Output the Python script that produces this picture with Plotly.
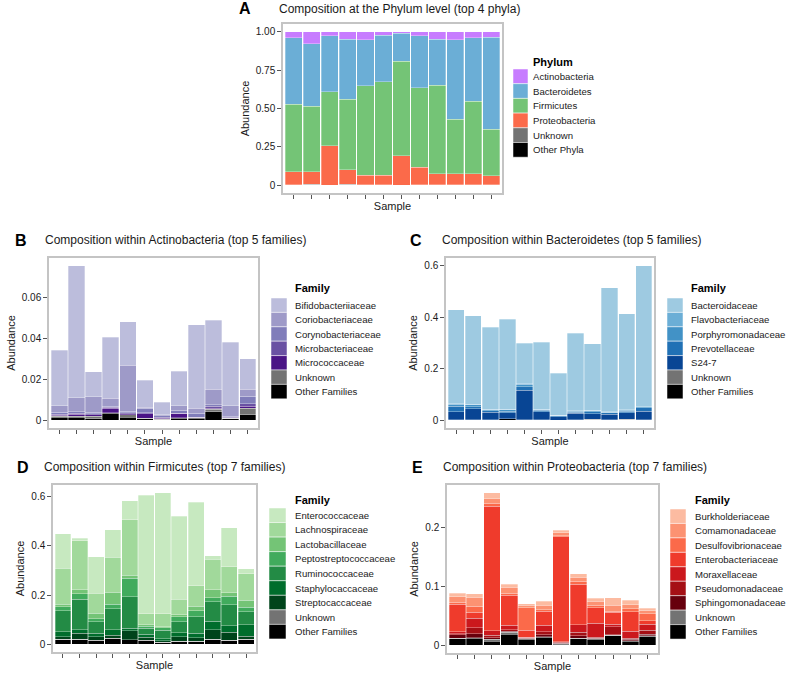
import plotly.graph_objects as go

W, H = 787, 673
samples = list(range(1, 13))

# ---------------- Panel A: phylum level ----------------
phylum_names = ["Actinobacteria", "Bacteroidetes", "Firmicutes", "Proteobacteria", "Unknown", "Other Phyla"]
phy_actino = [0.039, 0.078, 0.026, 0.048, 0.052, 0.024, 0.011, 0.026, 0.050, 0.054, 0.039, 0.035]
phy_bact = [0.433, 0.407, 0.365, 0.391, 0.300, 0.302, 0.182, 0.339, 0.300, 0.516, 0.415, 0.600]
phy_firm = [0.441, 0.428, 0.352, 0.459, 0.583, 0.609, 0.616, 0.518, 0.574, 0.354, 0.470, 0.304]
phy_proteo = [0.083, 0.081, 0.255, 0.096, 0.062, 0.062, 0.189, 0.114, 0.071, 0.073, 0.071, 0.057]
phy_unknown = [0.001, 0.001, 0.001, 0.001, 0.001, 0.001, 0.001, 0.001, 0.001, 0.001, 0.001, 0.001]
phy_other = [0.003, 0.005, 0.001, 0.005, 0.002, 0.002, 0.001, 0.002, 0.004, 0.002, 0.004, 0.003]

# ---------------- Panel B: Actinobacteria families ----------------
act_names = ["Bifidobacteriiaceae", "Coriobacteriaceae", "Corynobacteriaceae", "Microbacteriaceae",
             "Micrococcaceae", "Unknown", "Other Families"]
act_bifido = [0.0270, 0.0645, 0.0123, 0.0300, 0.0212, 0.0134, 0.0061, 0.0168, 0.0409, 0.0337, 0.0310, 0.0150]
act_corio = [0.0032, 0.0070, 0.0075, 0.0039, 0.0226, 0.0004, 0.0003, 0.0023, 0.0024, 0.0076, 0.0051, 0.0034]
act_coryno = [0.0010, 0.0006, 0.0007, 0.0005, 0.0007, 0.0022, 0.0008, 0.0015, 0.0019, 0.0008, 0.0006, 0.0035]
act_microbact = [0.0005, 0.0005, 0.0005, 0.0005, 0.0005, 0.0004, 0.0004, 0.0003, 0.0002, 0.0010, 0.0003, 0.0013]
act_micrococc = [0.0005, 0.0011, 0.0008, 0.0022, 0.0006, 0.0023, 0.0006, 0.0019, 0.0001, 0.0006, 0.0002, 0.0011]
act_unknown = [0.0004, 0.0003, 0.0012, 0.0002, 0.0011, 0.0002, 0.0002, 0.0002, 0.0002, 0.0012, 0.0002, 0.0030]
act_other = [0.0016, 0.0016, 0.0008, 0.0034, 0.0015, 0.0008, 0.0003, 0.0010, 0.0011, 0.0041, 0.0007, 0.0028]

# ---------------- Panel C: Bacteroidetes families ----------------
bac_names = ["Bacteroidaceae", "Flavobacteriaceae", "Porphyromonadaceae", "Prevotellaceae",
             "S24-7", "Unknown", "Other Families"]
bac_bacteroid = [0.366, 0.342, 0.320, 0.350, 0.157, 0.261, 0.162, 0.300, 0.258, 0.481, 0.373, 0.547]
bac_flavo = [0.002, 0.002, 0.001, 0.001, 0.003, 0.001, 0.001, 0.001, 0.001, 0.001, 0.001, 0.001]
bac_porphy = [0.008, 0.008, 0.004, 0.005, 0.010, 0.003, 0.002, 0.004, 0.004, 0.003, 0.004, 0.004]
bac_prevo = [0.020, 0.008, 0.005, 0.006, 0.013, 0.005, 0.003, 0.005, 0.008, 0.005, 0.005, 0.013]
bac_s247 = [0.032, 0.042, 0.030, 0.024, 0.115, 0.031, 0.013, 0.024, 0.022, 0.022, 0.026, 0.033]
bac_unknown = [0.001, 0.002, 0.001, 0.001, 0.001, 0.001, 0.001, 0.002, 0.001, 0.001, 0.001, 0.001]
bac_other = [0.001, 0.001, 0.001, 0.005, 0.001, 0.001, 0.000, 0.001, 0.003, 0.001, 0.003, 0.001]

# ---------------- Panel D: Firmicutes families ----------------
fir_names = ["Enterococcaceae", "Lachnospiraceae", "Lactobacillaceae", "Peptostreptococcaceae",
             "Ruminococcaceae", "Staphylocaccaceae", "Streptocaccaceae", "Unknown", "Other Families"]
fir_entero = [0.140, 0.011, 0.147, 0.111, 0.077, 0.480, 0.490, 0.336, 0.338, 0.015, 0.158, 0.020]
fir_lachno = [0.146, 0.198, 0.081, 0.142, 0.224, 0.045, 0.054, 0.062, 0.083, 0.123, 0.104, 0.109]
fir_lacto = [0.011, 0.015, 0.023, 0.049, 0.013, 0.006, 0.004, 0.009, 0.018, 0.031, 0.015, 0.027]
fir_pepto = [0.016, 0.023, 0.012, 0.018, 0.074, 0.008, 0.009, 0.020, 0.023, 0.018, 0.035, 0.018]
fir_rumino = [0.084, 0.124, 0.046, 0.085, 0.128, 0.025, 0.035, 0.045, 0.067, 0.078, 0.084, 0.053]
fir_staph = [0.021, 0.013, 0.015, 0.022, 0.010, 0.012, 0.008, 0.015, 0.020, 0.034, 0.026, 0.047]
fir_strep = [0.011, 0.026, 0.014, 0.012, 0.037, 0.012, 0.007, 0.020, 0.013, 0.040, 0.034, 0.013]
fir_unknown = [0.001, 0.001, 0.001, 0.001, 0.001, 0.001, 0.002, 0.001, 0.002, 0.001, 0.001, 0.001]
fir_other = [0.019, 0.019, 0.016, 0.024, 0.018, 0.016, 0.006, 0.011, 0.011, 0.019, 0.015, 0.019]

# ---------------- Panel E: Proteobacteria families ----------------
pro_names = ["Burkholderiaceae", "Comamonadaceae", "Desulfovibrionaceae", "Enterobacteriaceae",
             "Moraxellaceae", "Pseudomonadaceae", "Sphingomonadaceae", "Unknown", "Other Families"]
pro_burk = [0.006, 0.006, 0.010, 0.005, 0.003, 0.007, 0.004, 0.006, 0.005, 0.013, 0.008, 0.004]
pro_coma = [0.010, 0.015, 0.008, 0.010, 0.004, 0.007, 0.005, 0.007, 0.007, 0.010, 0.007, 0.005]
pro_desulfo = [0.003, 0.011, 0.005, 0.004, 0.038, 0.003, 0.002, 0.005, 0.004, 0.002, 0.005, 0.012]
pro_entero = [0.047, 0.010, 0.212, 0.051, 0.012, 0.024, 0.179, 0.069, 0.026, 0.020, 0.033, 0.006]
pro_morax = [0.003, 0.016, 0.008, 0.007, 0.001, 0.011, 0.001, 0.013, 0.024, 0.004, 0.012, 0.010]
pro_pseudo = [0.002, 0.010, 0.004, 0.003, 0.001, 0.005, 0.001, 0.006, 0.002, 0.014, 0.002, 0.007]
pro_sphingo = [0.006, 0.007, 0.003, 0.002, 0.001, 0.003, 0.001, 0.004, 0.001, 0.001, 0.002, 0.003]
pro_unknown = [0.001, 0.001, 0.003, 0.003, 0.001, 0.001, 0.001, 0.001, 0.001, 0.001, 0.001, 0.001]
pro_other = [0.011, 0.012, 0.007, 0.019, 0.010, 0.014, 0.002, 0.011, 0.010, 0.016, 0.007, 0.015]

# tick labels
a_ticks, a_ticktext = [0, 0.25, 0.5, 0.75, 1.0], ["0", "0.25", "0.50", "0.75", "1.00"]
b_ticks, b_ticktext = [0, 0.02, 0.04, 0.06], ["0", "0.02", "0.04", "0.06"]
c_ticks, c_ticktext = [0, 0.2, 0.4, 0.6], ["0", "0.2", "0.4", "0.6"]
d_ticks, d_ticktext = [0, 0.2, 0.4, 0.6], ["0", "0.2", "0.4", "0.6"]
e_ticks, e_ticktext = [0, 0.1, 0.2], ["0", "0.1", "0.2"]

GREY_UNK = "#737373"
BLACK = "#000000"

panels = [
    dict(s="", letter="A", title="Composition at the Phylum level (top 4 phyla)",
         box=(283, 502, 24, 193), ticks=(a_ticks, a_ticktext), legend_title="Phylum",
         names=phylum_names,
         values=[phy_actino, phy_bact, phy_firm, phy_proteo, phy_unknown, phy_other],
         colors=["#C77CFF", "#6BAED6", "#74C476", "#FB6A4A", GREY_UNK, BLACK],
         letter_xy=(237, 9), title_xy=(277, 9),
         leg=dict(kx=513, kw=15, ky=69, kh=14.7, tx=531, ty=62)),
    dict(s="2", letter="B", title="Composition within Actinobacteria (top 5 families)",
         box=(49, 258, 258, 428), ticks=(b_ticks, b_ticktext), legend_title="Family",
         names=act_names,
         values=[act_bifido, act_corio, act_coryno, act_microbact, act_micrococc, act_unknown, act_other],
         colors=["#BCBDDC", "#9E9AC8", "#807DBA", "#6A51A3", "#4A1486", GREY_UNK, BLACK],
         letter_xy=(13, 240), title_xy=(43, 240),
         leg=dict(kx=271, kw=16, ky=298, kh=14.4, tx=293, ty=288)),
    dict(s="3", letter="C", title="Composition within Bacteroidetes (top 5 families)",
         box=(446, 654, 258, 428), ticks=(c_ticks, c_ticktext), legend_title="Family",
         names=bac_names,
         values=[bac_bacteroid, bac_flavo, bac_porphy, bac_prevo, bac_s247, bac_unknown, bac_other],
         colors=["#9ECAE1", "#6BAED6", "#4292C6", "#2171B5", "#084594", GREY_UNK, BLACK],
         letter_xy=(408, 240), title_xy=(440, 240),
         leg=dict(kx=667, kw=16, ky=298, kh=14.4, tx=689, ty=288)),
    dict(s="4", letter="D", title="Composition within Firmicutes (top 7 families)",
         box=(53, 256, 485, 652), ticks=(d_ticks, d_ticktext), legend_title="Family",
         names=fir_names,
         values=[fir_entero, fir_lachno, fir_lacto, fir_pepto, fir_rumino, fir_staph, fir_strep,
                 fir_unknown, fir_other],
         colors=["#C7E9C0", "#A1D99B", "#74C476", "#41AB5D", "#238B45", "#006D2C", "#00441B",
                 GREY_UNK, BLACK],
         letter_xy=(15, 467), title_xy=(42, 467),
         leg=dict(kx=269, kw=17, ky=508, kh=14.55, tx=293, ty=500)),
    dict(s="5", letter="E", title="Composition within Proteobacteria (top 7 families)",
         box=(447, 658, 485, 653), ticks=(e_ticks, e_ticktext), legend_title="Family",
         names=pro_names,
         values=[pro_burk, pro_coma, pro_desulfo, pro_entero, pro_morax, pro_pseudo, pro_sphingo,
                 pro_unknown, pro_other],
         colors=["#FCBBA1", "#FC9272", "#FB6A4A", "#EF3B2C", "#CB181D", "#A50F15", "#67000D",
                 GREY_UNK, BLACK],
         letter_xy=(410, 467), title_xy=(441, 467),
         leg=dict(kx=670, kw=16, ky=509, kh=14.45, tx=693, ty=500)),
]

FONT = "Liberation Sans, Arial, Helvetica, sans-serif"
TXT = "#1a1a1a"

fig = go.Figure()
layout = dict(
    width=W, height=H, margin=dict(l=0, r=0, t=0, b=0, autoexpand=False),
    paper_bgcolor="white", plot_bgcolor="white",
    barmode="stack", bargap=0.04, showlegend=False,
    font=dict(family=FONT, color=TXT, size=11),
)
annotations = []
shapes = []


def px(x):
    return x / W


def py(y):
    return 1 - y / H


for p in panels:
    s = p["s"]
    # stacking: bottom-most category first
    for name, vals, col in reversed(list(zip(p["names"], p["values"], p["colors"]))):
        fig.add_trace(go.Bar(
            x=samples, y=vals, name=name,
            marker=dict(color=col, line=dict(color="white", width=0.3)),
            xaxis="x" + s, yaxis="y" + s, showlegend=False,
        ))
    totals = [sum(col) for col in zip(*p["values"])]
    m = max(totals)
    l, r, t, b = p["box"]
    tv, tt = p["ticks"]
    layout["xaxis" + s] = dict(
        domain=[px(l), px(r)], anchor="y" + s, range=[0.4, 12.6],
        tickvals=samples, showticklabels=False, ticks="outside", ticklen=4,
        tickcolor="#555555", tickwidth=1,
        showline=True, mirror=True, linecolor="#C4C4C4", linewidth=1.5,
        showgrid=False, zeroline=False,
        title=dict(text="Sample", font=dict(size=11, family=FONT, color=TXT), standoff=5),
    )
    layout["yaxis" + s] = dict(
        domain=[py(b), py(t)], anchor="x" + s, range=[-0.05 * m, 1.05 * m],
        tickvals=tv, ticktext=tt, ticks="outside", ticklen=4, tickcolor="#555555", tickwidth=1,
        tickfont=dict(size=10, family=FONT, color=TXT),
        showline=True, mirror=True, linecolor="#C4C4C4", linewidth=1.5,
        showgrid=False, zeroline=False,
        title=dict(text="Abundance", font=dict(size=11, family=FONT, color=TXT), standoff=4),
    )
    # panel letter and title
    lx, ly = p["letter_xy"]
    annotations.append(dict(text="<b>%s</b>" % p["letter"], x=px(lx), y=py(ly), xref="paper", yref="paper",
                            xanchor="left", yanchor="middle", showarrow=False,
                            font=dict(size=16, family=FONT, color="black")))
    tx, ty = p["title_xy"]
    annotations.append(dict(text=p["title"], x=px(tx), y=py(ty), xref="paper", yref="paper",
                            xanchor="left", yanchor="middle", showarrow=False,
                            font=dict(size=12, family=FONT, color=TXT)))
    # legend
    lg = p["leg"]
    annotations.append(dict(text="<b>%s</b>" % p["legend_title"], x=px(lg["tx"]), y=py(lg["ty"]),
                            xref="paper", yref="paper", xanchor="left", yanchor="middle",
                            showarrow=False, font=dict(size=11, family=FONT, color="black")))
    for i, (name, col) in enumerate(zip(p["names"], p["colors"])):
        y0 = lg["ky"] + i * lg["kh"]
        shapes.append(dict(type="rect", xref="paper", yref="paper",
                           x0=px(lg["kx"]), x1=px(lg["kx"] + lg["kw"]),
                           y0=py(y0 + lg["kh"]), y1=py(y0),
                           fillcolor=col, line=dict(color="white", width=0.5)))
        annotations.append(dict(text=name, x=px(lg["tx"]), y=py(y0 + lg["kh"] / 2),
                                xref="paper", yref="paper", xanchor="left", yanchor="middle",
                                showarrow=False, font=dict(size=9.6, family=FONT, color=TXT)))

layout["annotations"] = annotations
layout["shapes"] = shapes
fig.update_layout(**layout)
fig.write_html("out.html", config={"displayModeBar": False},
               post_script="document.body.style.margin='0px';document.body.style.overflow='hidden';")
